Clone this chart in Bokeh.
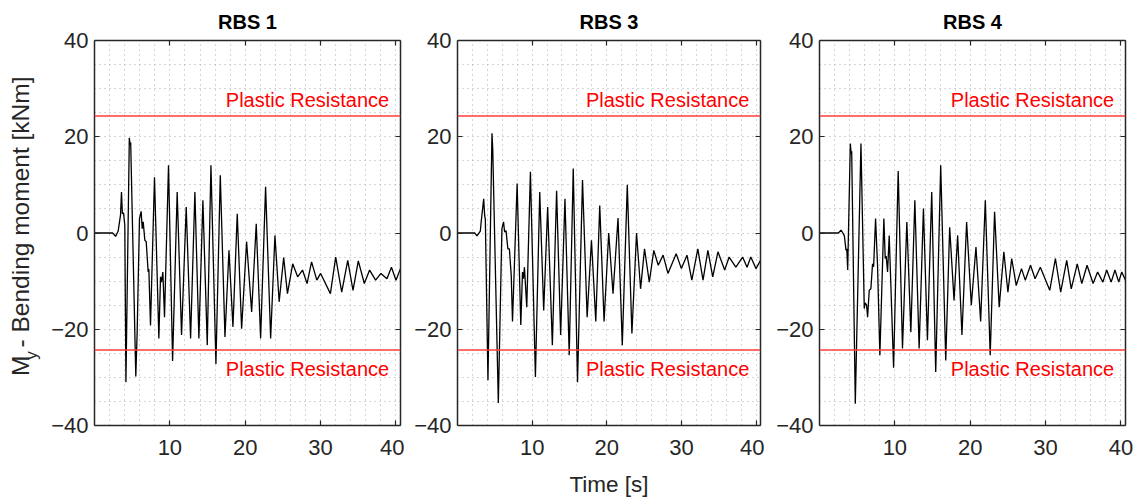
import math
from bokeh.plotting import figure
from bokeh.layouts import row, column
from bokeh.models import FixedTicker, LinearAxis, Span, Label, Range1d, ColumnDataSource
from bokeh.core.properties import value
from bokeh.embed import file_html
from bokeh.resources import INLINE

# ---------------- data ----------------
panel_titles = ["RBS 1", "RBS 3", "RBS 4"]
plastic_resistance = 24.3          # kNm, +/- limit
plastic_label = "Plastic Resistance"
x_tick_values = [10, 20, 30, 40]
y_tick_values = [-40, -20, 0, 20, 40]
x_label = "Time [s]"
y_label_main = "M"
y_label_sub = "y"
y_label_rest = "- Bending moment [kNm]"

rbs1_t = [0, 2.4, 2.8, 3.14, 3.45, 3.58, 3.7, 3.85, 4.02, 4.17, 4.62, 4.72, 4.8, 5.48, 5.66, 5.97, 6.19,
          6.33, 6.46, 6.68, 6.86, 7.12, 7.21, 7.43, 7.96, 8.54, 8.76, 8.89, 9.07, 9.29, 9.82, 10.36,
          10.97, 11.55, 12.17, 12.75, 13.32, 13.85, 14.38, 14.96, 15.45, 16.11, 16.69, 17.31, 17.84,
          18.37, 18.94, 19.52, 20.18, 20.85, 21.46, 22.04, 22.70, 23.37, 23.94, 24.5, 25.1, 25.6,
          26.3, 26.95, 27.6, 28.2, 28.8, 29.5, 30.0, 31.3, 32.0, 32.8, 33.6, 34.3, 35.0, 35.8, 36.5,
          37.3, 38.0, 38.8, 39.4, 40.0, 40.6]
rbs1_m = [0, 0, -0.7, 0.4, 3.7, 8.5, 4.0, 4.2, 1.6, -31.0, 19.8, 18.4, 18.8, -29.8, -20.6, 3.0, 4.5,
          0.9, 2.3, -1.5, -1.8, -8.1, -7.5, -19.2, 11.6, -21.9, -9.1, -10.2, -8.1, -17.5, 14.1, -26.6,
          8.5, -21.2, 5.4, -21.9, 8.5, -21.9, 6.8, -23.3, 14.1, -27.2, 12.0, -21.6, -3.6,
          -19.5, 4.0, -19.9, -1.8, -16.4, 1.9, -21.9, 9.6, -21.9, -0.5, -14.3, -5.1, -12.6,
          -6.4, -9.1, -7.7, -10.5, -6.0, -9.8, -8.4, -12.6, -5.0, -12.3, -5.7, -11.9, -5.8, -10.5, -7.7,
          -9.8, -8.4, -9.5, -7.1, -9.8, -7.4]

rbs3_t = [0, 2.3, 2.62, 3.06, 3.19, 3.51, 3.64, 3.73, 4.08, 4.62, 4.72, 5.47, 5.95, 6.17, 6.31, 6.5,
          6.75, 6.95, 7.2, 7.37, 7.99, 8.48, 8.71, 8.84, 8.97, 9.28, 9.77, 10.44, 11.02, 11.55, 12.08,
          12.71, 13.28, 13.82, 14.4, 14.97, 15.51, 16.08, 16.75, 17.37, 17.95, 18.53, 19.06, 19.64,
          20.26, 20.84, 21.51, 22.08, 22.75, 23.37, 23.99, 24.53, 25.06, 25.7, 26.3, 26.9, 27.55,
          28.2, 29.3, 30.0, 30.75, 31.4, 32.2, 32.9, 33.55, 34.2, 34.9, 35.8, 36.4, 37.3, 38.2, 38.8,
          39.3, 40.0, 40.6]
rbs3_m = [0, 0, -0.6, 0.4, 2.6, 7.1, 3.6, 2.9, -30.6, 20.7, 17.5, -35.3, 0.9, 2.3, 0.2, 0.5,
          -3.3, -3.3, -8.8, -18.4, 10.3, -19.1, -8.1, -9.5, -7.1, -15.4, 12.7, -29.9, 8.5, -16.1, 5.4,
          -23.3, 8.8, -21.2, 7.1, -25.4, 13.4, -31.0, 11.0, -17.5, -1.5, -18.4, 5.7, -18.4,
          0.0, -12.6, 3.1, -23.3, 10.0, -20.9, 0.0, -11.6, -3.3, -10.2, -3.6, -6.7, -4.6,
          -8.4, -4.3, -7.4, -4.6, -9.8, -3.3, -9.8, -3.6, -9.1, -3.9, -7.7, -5.0, -7.1, -5.0, -7.1,
          -5.0, -7.4, -5.7]

rbs4_t = [0, 2.5, 2.86, 3.1, 3.3, 3.52, 3.62, 3.74, 4.09, 4.2, 4.27, 4.75, 5.5, 5.94, 6.05, 6.25,
          6.38, 6.6, 6.82, 7.04, 7.18, 7.44, 7.7, 8.01, 8.54, 8.72, 8.85, 9.03, 9.25, 9.83, 10.44,
          11.01, 11.59, 12.12, 12.65, 13.22, 13.79, 14.32, 14.89, 15.42, 16.08, 16.75, 17.27, 17.85,
          18.33, 18.9, 19.52, 20.14, 20.76, 21.38, 22.0, 22.65, 23.23, 23.84, 24.46, 25.0, 25.5,
          26.1, 26.8, 27.3, 28.0, 28.6, 29.3, 30.55, 31.3, 32.0, 32.8, 33.4, 34.2, 34.8, 35.5, 36.3,
          36.9, 37.6, 38.1, 38.7, 39.2, 39.7, 40.1, 40.6]
rbs4_m = [0, 0, 0.6, 0, -0.6, -3.6, -3.3, -7.7, 18.6, 16.5, 17.0, -35.5, 18.6, -15.7, -14.5, -15.0,
          -17.5, -11.9, -11.6, -6.4, -7.0, 3.0, -6.7, -25.4, 3.0, -5.3, -4.8, -8.1, -0.5, -28.0, 12.9,
          -24.0, 2.3, -20.6, 6.8, -24.0, 5.1, -22.3, 8.5, -28.9, 14.1, -26.5, 1.2, -14.0,
          -0.5, -21.2, 2.3, -15.0, -2.9, -18.4, 6.8, -25.4, 4.4, -15.4, -3.9, -12.3, -5.3,
          -10.9, -7.4, -9.8, -6.7, -9.5, -7.1, -11.9, -5.3, -12.3, -5.7, -11.6, -6.4, -10.5, -6.7, -10.5,
          -8.1, -10.2, -7.7, -10.2, -7.7, -10.2, -8.1, -9.8]

series = [(rbs1_t, rbs1_m), (rbs3_t, rbs3_m), (rbs4_t, rbs4_m)]

# ---------------- style / layout ----------------
FONT = "Liberation Sans"
TXT = "#262626"
TICK_FS = "22px"
YLAB_FS = 24.5
SUB_FS = 17
XLAB_FS = 22.5
X_MAX = 40.6
TOP_B = 40
BOT_B = 37
PANEL_H = 462          # frame from y=40 to y=425
STRIP_H = 36
YLAB_W = 46
# (width, min_border_left, min_border_right)
geoms = [(358, 48, 4), (360, 53, 4), (372, 55, 11)]
TOTAL_W = YLAB_W + sum(g[0] for g in geoms)


def style_axis(ax, show_labels):
    ax.axis_line_color = TXT
    ax.axis_line_width = 1.5
    ax.major_tick_line_color = TXT
    ax.major_tick_line_width = 1.2
    ax.major_tick_in = 5
    ax.major_tick_out = 0
    ax.minor_tick_line_color = None
    ax.major_label_text_font = FONT
    ax.major_label_text_color = TXT
    if show_labels:
        ax.major_label_text_font_size = TICK_FS
    else:
        ax.major_label_text_font_size = "0px"
        ax.major_label_standoff = 0
        ax.major_label_text_alpha = 0


def blank_fig(w, h, xr, yr):
    f = figure(width=w, height=h, x_range=Range1d(*xr), y_range=Range1d(*yr),
               output_backend="svg", toolbar_location=None, min_border=0,
               x_axis_location=None, y_axis_location=None, title=None)
    f.grid.visible = False
    f.outline_line_color = None
    f.background_fill_color = "white"
    f.border_fill_color = "white"
    return f


panels = []
for title, (tt, mm), (w, bl, br) in zip(panel_titles, series, geoms):
    p = figure(width=w, height=PANEL_H, x_range=Range1d(0, X_MAX), y_range=Range1d(-40, 40),
               output_backend="svg", toolbar_location=None,
               min_border_left=bl, min_border_right=br,
               min_border_top=TOP_B, min_border_bottom=BOT_B, title=title)
    p.outline_line_color = None
    p.background_fill_color = "white"
    p.border_fill_color = "white"
    p.title.align = "center"
    p.title.text_font = FONT
    p.title.text_font_size = "20px"
    p.title.text_font_style = "bold"
    p.title.text_color = "black"
    p.title.standoff = 16

    p.xaxis.ticker = FixedTicker(ticks=x_tick_values)
    p.yaxis.ticker = FixedTicker(ticks=y_tick_values)
    style_axis(p.xaxis[0], True)
    style_axis(p.yaxis[0], True)
    p.xaxis[0].major_label_standoff = 14
    p.yaxis[0].major_label_standoff = 6

    top = LinearAxis(ticker=FixedTicker(ticks=x_tick_values))
    right = LinearAxis(ticker=FixedTicker(ticks=y_tick_values))
    style_axis(top, False)
    style_axis(right, False)
    p.add_layout(top, "above")
    p.add_layout(right, "right")

    p.xgrid.ticker = FixedTicker(ticks=list(range(2, 41, 2)))
    p.ygrid.ticker = FixedTicker(ticks=list(range(-35, 40, 5)))
    for g in (p.xgrid[0], p.ygrid[0]):
        g.grid_line_color = "#ababab"
        g.grid_line_dash = "1 4"
        g.grid_line_width = 1

    for sgn, ytxt in ((1, 27.6), (-1, -28.3)):
        p.add_layout(Span(location=sgn * plastic_resistance, dimension="width",
                          line_color="#ff3c3c", line_width=1.6))
        p.add_layout(Label(x=39.1, y=ytxt, text=plastic_label, text_align="right",
                           text_baseline="alphabetic", text_color="#ff0000",
                           text_font=FONT, text_font_size="20px"))

    src = ColumnDataSource(data=dict(t=tt, m=mm))
    p.line("t", "m", source=src, line_color="black", line_width=1.3)
    panels.append(p)

# ---- y-axis label strip (left), pixel-like coordinates ----
ylab = blank_fig(YLAB_W, PANEL_H, (0, YLAB_W), (0, PANEL_H))
k = 0.955                       # rendered/metric width ratio
m_w = 0.833 * YLAB_FS * k
sub_w = 0.5 * SUB_FS * k
gap_w = 0.278 * YLAB_FS * k
start = 59.5
ylab.text(x=[20, 31, 20],
          y=[start, start + m_w, start + m_w + sub_w + gap_w],
          text=[y_label_main, y_label_sub, y_label_rest], angle=math.pi / 2,
          text_align="left", text_baseline="alphabetic", text_color=TXT,
          text_font=value(FONT),
          text_font_size=[f"{YLAB_FS}px", f"{SUB_FS}px", f"{YLAB_FS}px"])

# ---- x-axis label strip (bottom) ----
strip = blank_fig(TOTAL_W, STRIP_H, (0, TOTAL_W), (0, STRIP_H))
x_center = YLAB_W + geoms[0][0] + geoms[1][1] + (geoms[1][0] - geoms[1][1] - geoms[1][2]) / 2
strip.text(x=[x_center], y=[14], text=[x_label], text_align="center", text_baseline="alphabetic",
           text_color=TXT, text_font=value(FONT), text_font_size=f"{XLAB_FS}px")

layout = column(row(ylab, *panels), strip)
open("out.html", "w").write(file_html(layout, INLINE))
